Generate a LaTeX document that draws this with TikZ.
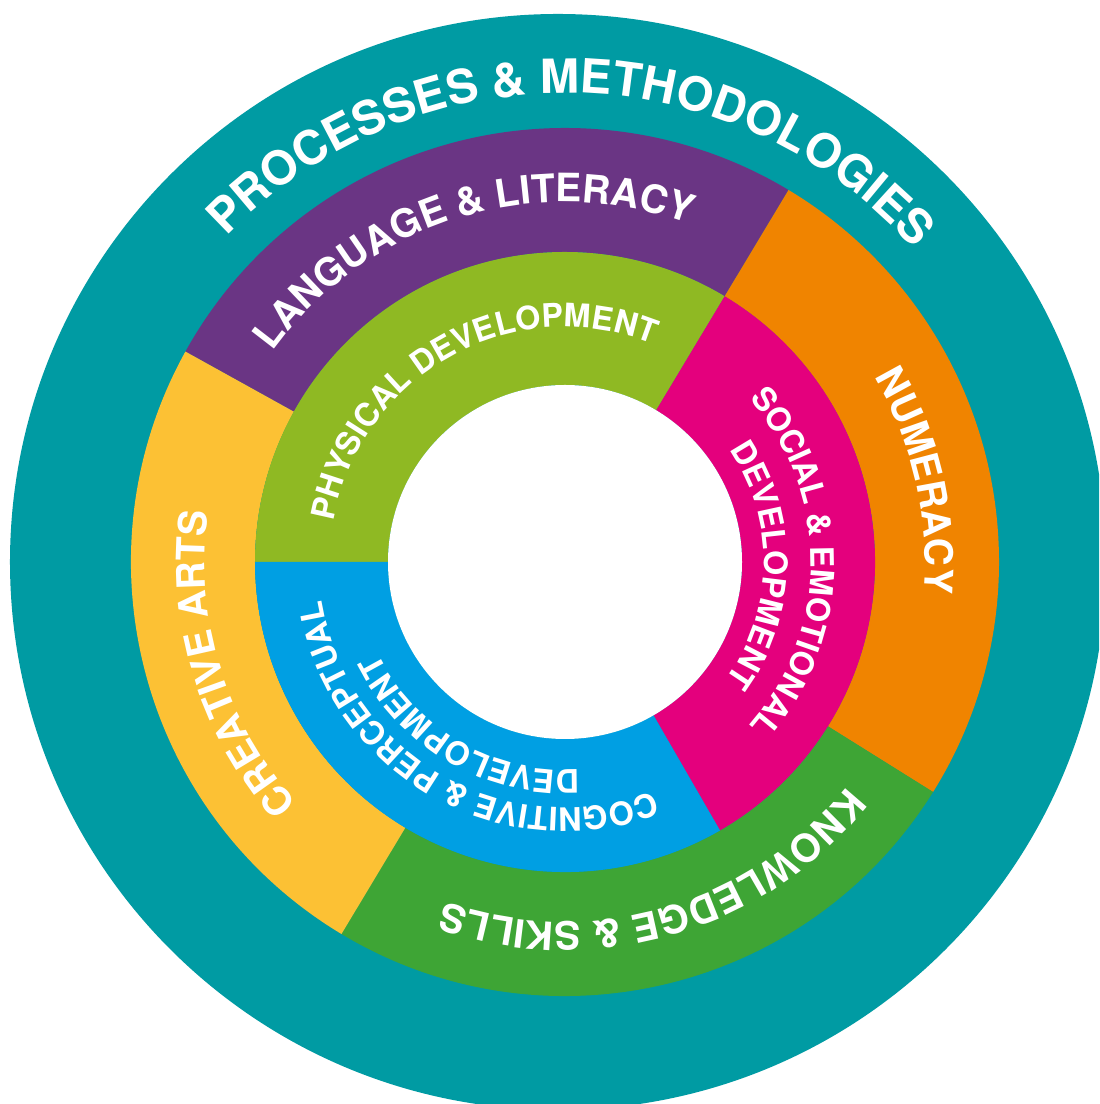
\documentclass[tikz,border=0pt]{standalone}
\usepackage{fontspec}
\setmainfont{TeX Gyre Heros}
\usetikzlibrary{decorations.text}

\definecolor{procteal}{RGB}{0,155,163}
\definecolor{langpurple}{RGB}{106,53,132}
\definecolor{numorange}{RGB}{240,132,0}
\definecolor{knowgreen}{RGB}{62,165,53}
\definecolor{artsyellow}{RGB}{252,193,52}
\definecolor{physgreen}{RGB}{143,185,35}
\definecolor{socmagenta}{RGB}{228,0,125}
\definecolor{cogblue}{RGB}{0,159,227}

\begin{document}
\begin{tikzpicture}[
    titletext/.style={decorate, decoration={text along path, text align=center,
        text={|\fontsize{13.4}{16}\selectfont\bfseries\color{white}|#1}}},
    areatext/.style={decorate, decoration={text along path, text align=center,
        text={|\fontsize{11.1}{13}\selectfont\bfseries\color{white}|#1}}},
    devtext/.style={decorate, decoration={text along path, text align=center,
        text={|\fontsize{9.2}{11}\selectfont\bfseries\color{white}|#1}}}
]
    \useasboundingbox (-5.65,-5.42) rectangle (5.34,5.62);
    \clip (-5.65,-5.42) rectangle (5.34,5.62);
    \fill[white] (-5.65,-5.42) rectangle (5.34,5.62);

    % Outer ring
    \fill[procteal] (-0.07,0) circle[radius=5.48];

    % Curriculum areas (middle ring)
    \foreach \s/\e/\col in {59/151/langpurple, -32/59/numorange, -121/-32/knowgreen, 151/239/artsyellow} {
        \fill[\col] (\s:3.10) arc[start angle=\s, end angle=\e, radius=3.10]
            -- (\e:4.34) arc[start angle=\e, end angle=\s, radius=4.34] -- cycle;
    }

    % Development strands (inner ring)
    \foreach \s/\e/\col in {59/180/physgreen, -60/59/socmagenta, 180/300/cogblue} {
        \fill[\col] (\s:1.77) arc[start angle=\s, end angle=\e, radius=1.77]
            -- (\e:3.10) arc[start angle=\e, end angle=\s, radius=3.10] -- cycle;
    }

    % Hole in the middle
    \fill[white] (0,0) circle[radius=1.77];

    % Labels, clockwise so the letters stand outward
    \path[titletext={PROCESSES {\&} METHODOLOGIES}] (159:4.69) arc[start angle=159, end angle=19, radius=4.69];

    \path[areatext={LANGUAGE {\&} LITERACY}] (177:3.60) arc[start angle=177, end angle=37, radius=3.60];
    \path[areatext={NUMERACY}] (83:3.60) arc[start angle=83, end angle=-57, radius=3.60];
    \path[areatext={KNOWLEDGE {\&} SKILLS}] (-4:3.60) arc[start angle=-4, end angle=-144, radius=3.60];
    \path[areatext={CREATIVE ARTS}] (267:3.60) arc[start angle=267, end angle=127, radius=3.60];

    \path[devtext={PHYSICAL DEVELOPMENT}] (189:2.35) arc[start angle=189, end angle=49, radius=2.35];
    \path[devtext={SOCIAL {\&} EMOTIONAL}] (70:2.46) arc[start angle=70, end angle=-70, radius=2.46];
    \path[devtext={DEVELOPMENT}] (69:1.99) arc[start angle=69, end angle=-71, radius=1.99];
    \path[devtext={COGNITIVE {\&} PERCEPTUAL}] (-50:2.46) arc[start angle=-50, end angle=-190, radius=2.46];
    \path[devtext={DEVELOPMENT}] (-50:2.08) arc[start angle=-50, end angle=-190, radius=2.08];
\end{tikzpicture}
\end{document}
